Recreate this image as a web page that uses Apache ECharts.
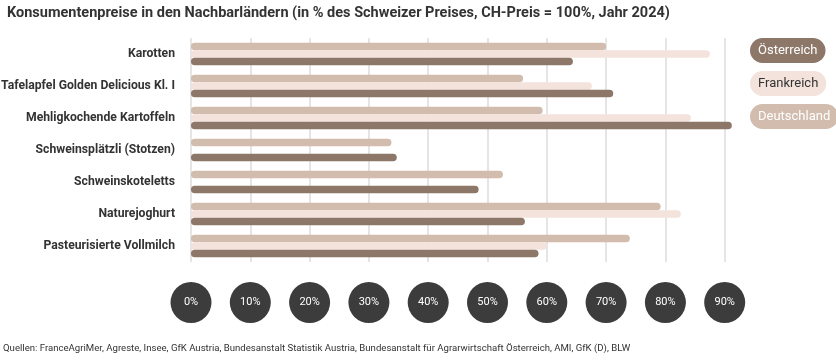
<!DOCTYPE html>
<html>
<head>
<meta charset="utf-8">
<script src="https://cdn.jsdelivr.net/npm/echarts@6/dist/echarts.min.js"></script>
<style>
html,body{margin:0;padding:0;background:#fff;}
#chart{width:836px;height:364px;}
</style>
</head>
<body>
<div id="chart"></div>
<script>
const categories = [
  'Karotten',
  'Tafelapfel Golden Delicious Kl. I',
  'Mehligkochende Kartoffeln',
  'Schweinsplätzli (Stotzen)',
  'Schweinskoteletts',
  'Naturejoghurt',
  'Pasteurisierte Vollmilch'
];
const deutschland = [70.0, 56.0, 59.3, 33.8, 52.6, 79.2, 74.0];
const frankreich  = [87.5, 67.6, 84.3, null, null, 82.6, 60.0];
const oesterreich = [64.4, 71.2, 91.2, 34.7, 48.5, 56.3, 58.6];
const tickValues = [0, 10, 20, 30, 40, 50, 60, 70, 80, 90];

const FONT = 'Roboto, sans-serif';
const C_DE = '#d1bcae';
const C_FR = '#f4e3dc';
const C_AT = '#8c7769';

const chart = echarts.init(document.getElementById('chart'), null, {renderer: 'canvas'});

function barSeries(name, data, color) {
  return {
    name: name,
    type: 'bar',
    data: data,
    barWidth: 7.5,
    barGap: '0%',
    clip: false,
    itemStyle: {color: color, borderRadius: 3.75},
    emphasis: {disabled: true}
  };
}

const pill = function (bg, fg) {
  return {backgroundColor: bg, color: fg, fontSize: 13, borderRadius: 14, padding: [6, 8, 6, 8], lineHeight: 16, fontFamily: FONT};
};

chart.setOption({
  animation: false,
  textStyle: {fontFamily: FONT},
  title: {
    text: 'Konsumentenpreise in den Nachbarländern (in % des Schweizer Preises, CH-Preis = 100%, Jahr 2024)',
    left: 2, top: 1,
    textStyle: {fontFamily: FONT, fontSize: 14.5, fontWeight: 'bold', color: '#333'}
  },
  legend: {
    data: ['Österreich', 'Frankreich', 'Deutschland'],
    orient: 'vertical',
    left: 745, top: 38,
    padding: 0,
    itemWidth: 0, itemHeight: 0,
    itemGap: 8,
    selectedMode: false,
    formatter: function (name) {
      const key = name === 'Österreich' ? 'at' : (name === 'Frankreich' ? 'fr' : 'de');
      return '{' + key + '|' + name + '}';
    },
    textStyle: {
      fontFamily: FONT,
      rich: {
        at: pill(C_AT, '#fff'),
        fr: pill(C_FR, '#333'),
        de: pill(C_DE, '#fff')
      }
    }
  },
  grid: {left: 191, right: 111.3, top: 38, bottom: 102, containLabel: false, outerBoundsMode: 'none'},
  xAxis: {
    type: 'value',
    min: 0, max: 90, interval: 10,
    axisLine: {show: false},
    axisTick: {show: false},
    splitLine: {show: true, lineStyle: {color: '#dcdcdc', width: 1.5}},
    axisLabel: {
      margin: 20,
      formatter: function (v) { return tickValues.indexOf(v) >= 0 ? '{c|' + v + '%}' : ''; },
      rich: {
        c: {backgroundColor: '#3c3c3c', color: '#fff', width: 41, height: 41, lineHeight: 41, borderRadius: 21, align: 'center', fontSize: 11, fontFamily: FONT}
      }
    }
  },
  yAxis: {
    type: 'category',
    data: categories,
    inverse: true,
    axisLine: {show: false},
    axisTick: {show: false},
    axisLabel: {margin: 16, fontSize: 12.2, fontWeight: 'bold', color: '#333', fontFamily: FONT}
  },
  graphic: [{
    type: 'text', left: 3, top: 344,
    style: {
      text: 'Quellen: FranceAgriMer, Agreste, Insee, GfK Austria, Bundesanstalt Statistik Austria, Bundesanstalt für Agrarwirtschaft Österreich, AMI, GfK (D), BLW',
      fontSize: 9.6, fill: '#333', fontFamily: FONT
    }
  }],
  series: [
    barSeries('Deutschland', deutschland, C_DE),
    barSeries('Frankreich', frankreich, C_FR),
    barSeries('Österreich', oesterreich, C_AT)
  ]
});
</script>
</body>
</html>
